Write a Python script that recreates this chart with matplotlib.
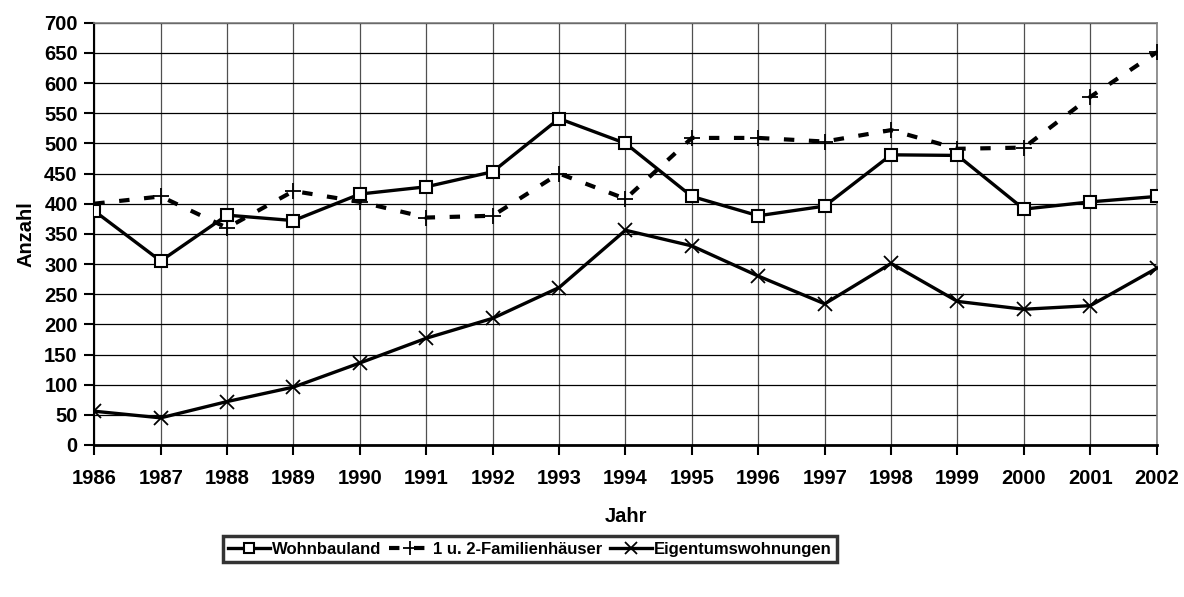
import matplotlib.pyplot as plt

plt.rcParams['font.family'] = ['Liberation Sans', 'DejaVu Sans']
plt.rcParams['font.weight'] = 'bold'

# Data
jahre = [1986, 1987, 1988, 1989, 1990, 1991, 1992, 1993, 1994,
         1995, 1996, 1997, 1998, 1999, 2000, 2001, 2002]
wohnbauland = [388, 305, 381, 372, 416, 428, 453, 541, 500,
               412, 380, 396, 481, 480, 391, 403, 412]
familienhaeuser = [400, 412, 360, 421, 403, 377, 380, 450, 408,
                   509, 509, 503, 522, 491, 493, 577, 651]
eigentumswohnungen = [56, 45, 72, 96, 136, 177, 210, 261, 356,
                      330, 280, 234, 301, 238, 225, 231, 293]

fig = plt.figure(figsize=(11.84, 5.97), dpi=100)
ax = fig.add_axes([94.3 / 1184, 1 - 445 / 597, (1156.7 - 94.3) / 1184, (445 - 22.7) / 597])

ax.plot(jahre, wohnbauland, color='black', lw=2.4, marker='s', ms=9,
        mfc='white', mec='black', mew=1.5, label='Wohnbauland', zorder=4)
ax.plot(jahre, familienhaeuser, color='black', lw=3, ls=(0, (2.5, 3.5)),
        marker='+', ms=12, mew=1.3, label='1 u. 2-Familienhäuser', zorder=3)
ax.plot(jahre, eigentumswohnungen, color='black', lw=2.4, marker='x', ms=10,
        mew=1.3, label='Eigentumswohnungen', zorder=4)

ax.set_xlim(1986, 2002)
ax.set_ylim(0, 700)
ax.set_xticks(jahre)
ax.set_yticks(range(0, 701, 50))
ax.tick_params(axis='both', labelsize=14.5, direction='out', length=7, width=1.5)
ax.tick_params(axis='x', pad=10)
ax.tick_params(axis='y', pad=5)
for lab in ax.get_xticklabels() + ax.get_yticklabels():
    lab.set_fontweight('bold')

ax.grid(axis='y', color='black', lw=0.9)
ax.grid(axis='x', color='#505050', lw=0.9)
ax.set_axisbelow(True)

ax.spines['top'].set_color('#808080')
ax.spines['right'].set_color('#808080')
ax.spines['top'].set_linewidth(1.2)
ax.spines['right'].set_linewidth(1.2)
ax.spines['left'].set_linewidth(1.5)
ax.spines['bottom'].set_linewidth(2)

ax.set_xlabel('Jahr', fontsize=14.5, fontweight='bold', labelpad=14)
ax.set_ylabel('Anzahl', fontsize=14.5, fontweight='bold', labelpad=6)

leg = ax.legend(loc='upper center', bbox_to_anchor=(0.41, -0.215), ncol=3,
                fontsize=12, frameon=True, fancybox=False, handlelength=2.5,
                handletextpad=0.1, columnspacing=0.5, borderpad=0.35,
                borderaxespad=0, markerscale=0.8)
leg.get_frame().set_edgecolor('black')
leg.get_frame().set_linewidth(2.5)
for t in leg.get_texts():
    t.set_fontweight('bold')

fig.savefig('out.png', dpi=100)
